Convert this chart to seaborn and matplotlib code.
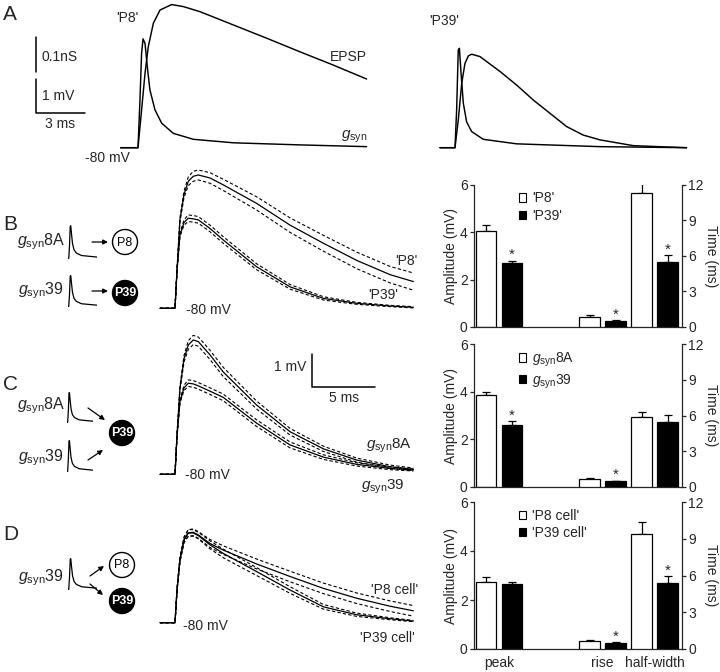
import matplotlib
matplotlib.use("Agg")
import matplotlib.pyplot as plt
import seaborn as sns
import numpy as np
import pandas as pd
from matplotlib.patches import Circle, Patch

sns.set_theme(context="paper", style="ticks")
plt.rcParams['font.family'] = ['Liberation Sans', 'DejaVu Sans']
plt.rcParams['mathtext.fontset'] = 'custom'
plt.rcParams['mathtext.rm'] = 'Liberation Sans'
plt.rcParams['mathtext.it'] = 'Liberation Sans:italic'
plt.rcParams['lines.dashed_pattern'] = (3, 2)

W, H = 720, 672

# ---- panel A traces (t in ms from onset, EPSP in mV above -80 mV, g in nS)
A_P8_EPSP_T = [-1.06, 0, 0.22, 0.43, 0.63, 0.94, 1.35, 2.06, 2.78, 3.80, 5.84, 7.88, 9.92, 11.96, 14.0]
A_P8_EPSP_V = [0, 0, 1.11, 2.19, 2.97, 3.66, 4.05, 4.21, 4.15, 4.0, 3.61, 3.22, 2.82, 2.43, 2.02]
A_P8_G_T = [-1.06, 0, 0.12, 0.22, 0.31, 0.43, 0.57, 0.73, 1.04, 1.45, 2.16, 3.39, 5.84, 9.92, 14.0]
A_P8_G = [0, 0, 0.136, 0.27, 0.311, 0.298, 0.231, 0.165, 0.108, 0.07, 0.041, 0.024, 0.014, 0.008, 0.003]

A_P39_EPSP_T = [-0.92, 0, 0.2, 0.41, 0.61, 0.82, 1.02, 1.53, 2.76, 3.78, 4.80, 5.82, 6.84, 7.86, 8.88, 10.92, 14.18]
A_P39_EPSP_V = [0, 0, 0.81, 1.89, 2.48, 2.70, 2.75, 2.68, 2.24, 1.84, 1.40, 1.01, 0.62, 0.37, 0.23, 0.06, 0]
A_P39_G_T = [-0.92, 0, 0.10, 0.20, 0.27, 0.37, 0.51, 0.71, 1.02, 1.73, 3.78, 8.88, 14.18]
A_P39_G = [0, 0, 0.108, 0.279, 0.284, 0.213, 0.127, 0.074, 0.046, 0.024, 0.011, 0.003, 0]

# ---- panels B-D mean traces +/- SEM (mV above -80 mV)
T = [-1.18, 0, 0.16, 0.39, 0.71, 1.05, 1.44, 1.84, 2.76, 3.81, 6.44, 9.08, 11.72, 14.35, 16.97, 18.81]
B_P8 = [0, 0, 1.16, 2.68, 3.45, 3.85, 4.0, 4.04, 3.95, 3.74, 3.18, 2.52, 1.97, 1.45, 1.02, 0.81]
B_P8_SEM = [0, 0, 0.03, 0.06, 0.1, 0.13, 0.15, 0.15, 0.16, 0.17, 0.2, 0.22, 0.24, 0.25, 0.25, 0.26]
B_P39 = [0, 0, 1.16, 2.22, 2.6, 2.73, 2.71, 2.68, 2.42, 2.07, 1.26, 0.65, 0.30, 0.15, 0.07, 0.03]
B_P39_SEM = [0, 0, 0.03, 0.05, 0.08, 0.1, 0.1, 0.1, 0.1, 0.1, 0.09, 0.07, 0.05, 0.03, 0.02, 0.02]

C_8A = [0, 0, 1.2, 2.6, 3.5, 3.92, 4.07, 4.02, 3.62, 3.1, 2.10, 1.29, 0.77, 0.43, 0.23, 0.15]
C_8A_SEM = [0, 0, 0.03, 0.06, 0.1, 0.13, 0.14, 0.14, 0.14, 0.14, 0.12, 0.1, 0.08, 0.06, 0.05, 0.04]
C_39 = [0, 0, 1.16, 2.2, 2.62, 2.76, 2.74, 2.68, 2.52, 2.33, 1.55, 0.89, 0.52, 0.30, 0.18, 0.13]
C_39_SEM = [0, 0, 0.03, 0.05, 0.08, 0.1, 0.1, 0.1, 0.1, 0.1, 0.1, 0.09, 0.07, 0.05, 0.04, 0.03]

D_P8 = [0, 0, 1.0, 1.9, 2.51, 2.72, 2.74, 2.66, 2.4, 2.2, 1.78, 1.40, 1.04, 0.74, 0.50, 0.36]
D_P8_SEM = [0, 0, 0.03, 0.06, 0.08, 0.1, 0.1, 0.1, 0.12, 0.13, 0.15, 0.16, 0.16, 0.16, 0.16, 0.16]
D_P39 = [0, 0, 1.0, 1.9, 2.51, 2.72, 2.72, 2.64, 2.36, 2.1, 1.55, 0.99, 0.48, 0.24, 0.12, 0.05]
D_P39_SEM = [0, 0, 0.03, 0.06, 0.08, 0.1, 0.1, 0.1, 0.12, 0.13, 0.12, 0.1, 0.07, 0.05, 0.03, 0.02]

# ---- bar summaries: peak (mV), rise and half-width (ms); [white, black]
B_PEAK, B_PEAK_ERR = [4.05, 2.7], [0.25, 0.1]
B_RISE, B_RISE_ERR = [0.82, 0.51], [0.18, 0.05]
B_HW, B_HW_ERR = [11.3, 5.5], [0.9, 0.55]
C_PEAK, C_PEAK_ERR = [3.87, 2.62], [0.12, 0.15]
C_RISE, C_RISE_ERR = [0.65, 0.48], [0.1, 0.05]
C_HW, C_HW_ERR = [5.85, 5.45], [0.45, 0.6]
D_PEAK, D_PEAK_ERR = [2.75, 2.65], [0.2, 0.1]
D_RISE, D_RISE_ERR = [0.63, 0.51], [0.1, 0.05]
D_HW, D_HW_ERR = [9.4, 5.4], [0.95, 0.55]

MEASURES = ["peak", "rise", "half-width"]
GSYN = r"$g_{\rm syn}$"

# layout (pixels of the 720x672 canvas)
GROUP_X = {"peak": 25, "rise": 128.5, "half-width": 180.5}
DODGE = 13
PAL = {"w": "white", "b": "black"}

fig = plt.figure(figsize=(W / 100, H / 100), dpi=100)


def px_axes(box):
    l, t, r, b = box
    return fig.add_axes([l / W, 1 - b / H, (r - l) / W, (b - t) / H])


def set_scale(ax, box, x0, y0, sx, sy):
    l, t, r, b = box
    ax.set_xlim((l - x0) / sx, (r - x0) / sx)
    ax.set_ylim((y0 - b) / sy, (y0 - t) / sy)
    ax.set_axis_off()


def line(ax, x, y, **kw):
    sns.lineplot(x=x, y=y, ax=ax, color="black", lw=kw.pop("lw", 0.9),
                 errorbar=None, sort=False, **kw)


# ---------------- panel A
box = (0, 0, 410, 170)
axA = px_axes(box)
set_scale(axA, box, 138, 147.7, 16.33, 34)
axAg = axA.twinx()
set_scale(axAg, box, 138, 147.7, 16.33, 350)
line(axA, A_P8_EPSP_T, A_P8_EPSP_V, lw=1.05)
line(axAg, A_P8_G_T, A_P8_G, lw=1.05)
# scale bars
axA.plot([-6.25, -6.25, -3.25], [2.02, 1.02, 1.02], color="black", lw=1.1)
axAg.plot([-6.25, -6.25], [0.216, 0.316], color="black", lw=1.1)

box = (425, 0, 720, 170)
axA2 = px_axes(box)
set_scale(axA2, box, 455, 147.7, 16.33, 34)
axA2g = axA2.twinx()
set_scale(axA2g, box, 455, 147.7, 16.33, 350)
line(axA2, A_P39_EPSP_T, A_P39_EPSP_V, lw=1.05)
line(axA2g, A_P39_G_T, A_P39_G, lw=1.05)


# ---------------- panels B-D traces
def trace_panel(box, y0, series):
    ax = px_axes(box)
    set_scale(ax, box, 175, y0, 12.67, 33)
    for mean, sem in series:
        m, s = np.array(mean), np.array(sem)
        line(ax, T, m)
        line(ax, T, m + s, ls="--", lw=0.8)
        line(ax, T, m - s, ls="--", lw=0.8)
    return ax


trace_panel((150, 162, 430, 322), 308.3, [(B_P8, B_P8_SEM), (B_P39, B_P39_SEM)])
axC = trace_panel((150, 325, 430, 500), 474.3, [(C_8A, C_8A_SEM), (C_39, C_39_SEM)])
axC.plot([10.79, 10.79, 15.79], [3.65, 2.65, 2.65], color="black", lw=1.1)
trace_panel((150, 512, 430, 660), 622.7, [(D_P8, D_P8_SEM), (D_P39, D_P39_SEM)])


# ---------------- bar panels
def bar_panel(box, peak, peak_err, rise, rise_err, hw, hw_err, stars, labels, show_x):
    ax = px_axes(box)
    ax2 = ax.twinx()
    amp = pd.DataFrame({
        "x": [GROUP_X["peak"] - DODGE, GROUP_X["peak"] + DODGE],
        "y": peak, "cond": ["w", "b"]})
    tim = pd.DataFrame({
        "x": [GROUP_X["rise"] - DODGE, GROUP_X["rise"] + DODGE,
              GROUP_X["half-width"] - DODGE, GROUP_X["half-width"] + DODGE],
        "y": rise + hw, "cond": ["w", "b", "w", "b"]})
    for a, df, err in [(ax, amp, peak_err), (ax2, tim, rise_err + hw_err)]:
        sns.barplot(data=df, x="x", y="y", hue="cond", palette=PAL, native_scale=True,
                    saturation=1, edgecolor="black", linewidth=0.9, legend=False, ax=a)
        a.errorbar(df["x"], df["y"], yerr=[np.zeros(len(err)), err], fmt="none",
                   ecolor="black", elinewidth=0.9, capsize=3.2, capthick=0.9, zorder=0.5)
        tops = df["y"].to_numpy() + np.array(err)
        for i in range(len(df)):
            if (a is ax and ("peak", i) in stars) or (a is ax2 and ("time", i) in stars):
                a.annotate("*", (df["x"].iloc[i], tops[i]), ha="center", va="bottom",
                           fontsize=11, xytext=(0, -1), textcoords="offset points")
    ax.set_xlim(0, box[2] - box[0])
    ax.set_ylim(0, 6)
    ax2.set_ylim(0, 12)
    ax.set_yticks([0, 2, 4, 6])
    ax2.set_yticks([0, 3, 6, 9, 12])
    for s in ["top", "right"]:
        ax.spines[s].set_visible(False)
    for s in ["top", "left", "bottom"]:
        ax2.spines[s].set_visible(False)
    ax2.spines["right"].set_visible(True)
    for sp in list(ax.spines.values()) + [ax2.spines["right"]]:
        sp.set_linewidth(0.9)
    ax.tick_params(axis="y", direction="out", length=3, width=0.9, pad=1.5, labelsize=10)
    ax2.tick_params(axis="y", direction="out", length=3, width=0.9, pad=1.5, labelsize=10)
    ax.set_ylabel("Amplitude (mV)", fontsize=10, labelpad=1)
    ax2.set_ylabel("Time (ms)", fontsize=10, rotation=270, labelpad=10)
    if show_x:
        ax.set_xticks([GROUP_X[m] for m in MEASURES])
        ax.set_xticklabels(MEASURES, fontsize=10)
        ax.tick_params(axis="x", length=0, pad=5)
    else:
        ax.set_xticks([])
    ax.set_xlabel("")
    handles = [Patch(facecolor="white", edgecolor="black", lw=0.8),
               Patch(facecolor="black", edgecolor="black", lw=0.8)]
    ax.legend(handles, labels, loc="upper left", bbox_to_anchor=(0.215, 0.955),
              frameon=False, handlelength=0.55, handleheight=0.55, handletextpad=0.4,
              labelspacing=0.25, borderpad=0, borderaxespad=0, fontsize=10)


bar_panel((474, 185, 682, 327), B_PEAK, B_PEAK_ERR, B_RISE, B_RISE_ERR, B_HW, B_HW_ERR,
          [("peak", 1), ("time", 1), ("time", 3)], ["'P8'", "'P39'"], False)
bar_panel((474, 344, 682, 487), C_PEAK, C_PEAK_ERR, C_RISE, C_RISE_ERR, C_HW, C_HW_ERR,
          [("peak", 1), ("time", 1)], [GSYN + "8A", GSYN + "39"], False)
bar_panel((474, 502, 682, 649), D_PEAK, D_PEAK_ERR, D_RISE, D_RISE_ERR, D_HW, D_HW_ERR,
          [("time", 1), ("time", 3)], ["'P8 cell'", "'P39 cell'"], True)


# ---------------- schematic kernels
for kb in [(68, 225, 97, 259), (68, 275, 97, 307), (67, 392, 93, 423),
           (67, 440, 93, 472), (68, 558, 97, 590)]:
    k = px_axes(kb)
    line(k, A_P39_G_T, A_P39_G, lw=0.9)
    k.set_xlim(-0.1, 3.8)
    k.set_ylim(-0.006, 0.29)
    k.set_axis_off()

# ---------------- overlay text / schematic
ov = fig.add_axes([0, 0, 1, 1])
ov.set_xlim(0, W)
ov.set_ylim(H, 0)
ov.set_axis_off()

for letter, y in [("A", 14), ("B", 224), ("C", 384), ("D", 534)]:
    ov.text(3, y, letter, fontsize=15, va="center", ha="left")

fs = 10
ov.text(127, 18, "'P8'", fontsize=fs, ha="center", va="center")
ov.text(444, 21, "'P39'", fontsize=fs, ha="center", va="center")
ov.text(367, 57, "EPSP", fontsize=fs, ha="right", va="center")
ov.text(367, 137, GSYN, fontsize=fs + 1, ha="right", va="center")
ov.text(107, 158, "-80 mV", fontsize=fs, ha="center", va="center")
ov.text(42, 57, "0.1nS", fontsize=fs, ha="left", va="center")
ov.text(42, 96, "1 mV", fontsize=fs, ha="left", va="center")
ov.text(60, 124, "3 ms", fontsize=fs, ha="center", va="center")

ov.text(186, 310, "-80 mV", fontsize=fs, ha="left", va="center")
ov.text(417, 261, "'P8'", fontsize=fs, ha="right", va="center")
ov.text(398, 295, "'P39'", fontsize=fs, ha="right", va="center")

ov.text(185, 475, "-80 mV", fontsize=fs, ha="left", va="center")
ov.text(306, 367, "1 mV", fontsize=fs, ha="right", va="center")
ov.text(344, 398, "5 ms", fontsize=fs, ha="center", va="center")
ov.text(412, 446, GSYN + "8A", fontsize=fs + 1, ha="right", va="center")
ov.text(405, 487, GSYN + "39", fontsize=fs + 1, ha="right", va="center")

ov.text(183, 626, "-80 mV", fontsize=fs, ha="left", va="center")
ov.text(418, 590, "'P8 cell'", fontsize=fs, ha="right", va="center")
ov.text(415, 638, "'P39 cell'", fontsize=fs, ha="right", va="center")

for txt, x, y in [("8A", 65, 242), ("39", 64, 291), ("8A", 65, 406),
                  ("39", 64, 458), ("39", 64, 578)]:
    ov.text(x, y, GSYN + txt, fontsize=fs + 1.5, ha="right", va="center")

for (x0, y0), (x1, y1) in [((92, 242), (108, 242)), ((92, 291), (108, 291)),
                           ((88, 408), (105, 420)), ((88, 460), (103, 450)),
                           ((90, 576), (104, 566)), ((90, 584), (103, 595))]:
    ov.annotate("", xy=(x1, y1), xytext=(x0, y0),
                arrowprops=dict(arrowstyle="-|>", color="black", lw=0.9, mutation_scale=7,
                                shrinkA=0, shrinkB=0))

for name, x, y in [("P8", 125, 242), ("P39", 125, 293), ("P39", 122, 433),
                   ("P8", 122, 565), ("P39", 122, 601)]:
    filled = name == "P39"
    ov.add_patch(Circle((x, y), 12.5, facecolor="black" if filled else "white",
                        edgecolor="black", lw=1.0))
    ov.text(x, y + 0.5, name, fontsize=9, ha="center", va="center",
            color="white" if filled else "black", fontweight="bold" if filled else "normal")

fig.savefig("out.png", dpi=100)
